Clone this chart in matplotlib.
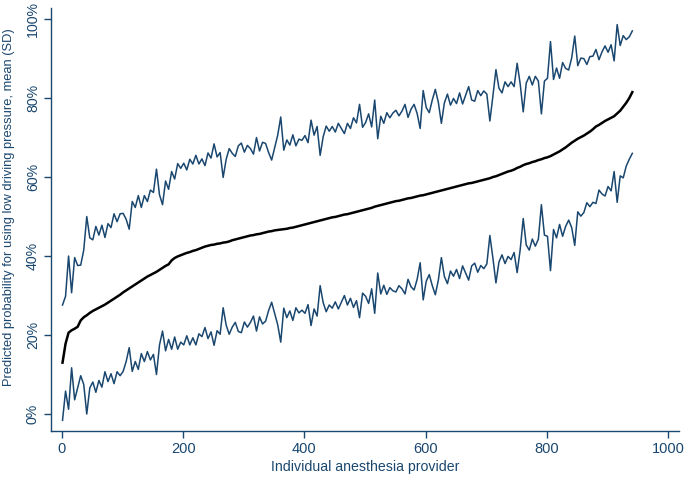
import numpy as np
import matplotlib
matplotlib.use("Agg")
import matplotlib.pyplot as plt

# Providers sampled every 5th rank (1, 6, 11, ... 941)
providers = np.arange(1, 946, 5)

# Predicted probability, mean (%), ranked
mean_pct = [
    13.0, 17.8, 20.6, 21.2, 21.6, 22.1, 23.7, 24.5, 25.0, 25.6,
    26.1, 26.5, 26.9, 27.3, 27.7, 28.2, 28.7, 29.2, 29.7, 30.2,
    30.8, 31.3, 31.8, 32.3, 32.8, 33.3, 33.8, 34.3, 34.8, 35.2,
    35.6, 36.0, 36.5, 37.0, 37.5, 37.9, 38.9, 39.5, 39.9, 40.2,
    40.5, 40.8, 41.0, 41.3, 41.5, 41.8, 42.1, 42.4, 42.6, 42.8,
    42.9, 43.1, 43.2, 43.4, 43.5, 43.7, 44.0, 44.2, 44.4, 44.6,
    44.8, 45.0, 45.2, 45.3, 45.5, 45.6, 45.8, 46.0, 46.2, 46.3,
    46.5, 46.6, 46.7, 46.8, 46.9, 47.1, 47.2, 47.4, 47.6, 47.8,
    48.0, 48.2, 48.4, 48.6, 48.8, 49.0, 49.2, 49.4, 49.6, 49.8,
    49.9, 50.1, 50.3, 50.5, 50.6, 50.8, 51.0, 51.2, 51.4, 51.6,
    51.8, 52.0, 52.2, 52.5, 52.7, 52.9, 53.1, 53.3, 53.5, 53.7,
    53.9, 54.0, 54.2, 54.4, 54.6, 54.7, 54.9, 55.1, 55.3, 55.4,
    55.6, 55.8, 56.0, 56.2, 56.4, 56.6, 56.8, 57.0, 57.2, 57.4,
    57.6, 57.8, 58.0, 58.2, 58.4, 58.5, 58.7, 58.9, 59.1, 59.3,
    59.5, 59.7, 60.0, 60.2, 60.5, 60.8, 61.1, 61.4, 61.6, 61.9,
    62.3, 62.6, 63.0, 63.3, 63.5, 63.8, 64.0, 64.3, 64.5, 64.8,
    65.0, 65.3, 65.7, 66.1, 66.5, 67.0, 67.5, 68.1, 68.7, 69.2,
    69.7, 70.1, 70.5, 71.0, 71.5, 72.1, 72.8, 73.2, 73.7, 74.2,
    74.6, 75.0, 75.4, 76.1, 76.8, 77.8, 78.8, 80.0, 81.5,
]

# Standard deviation (%) per provider
sd_pct = [
    14.6, 12.0, 19.4, 9.5, 18.0, 15.5, 14.0, 17.0, 25.0, 19.0,
    18.0, 21.0, 18.4, 20.5, 17.0, 20.0, 18.5, 21.5, 19.0, 20.5,
    20.0, 18.0, 15.0, 21.5, 19.5, 22.0, 18.5, 21.0, 19.0, 21.5,
    20.5, 26.0, 19.0, 16.0, 21.5, 19.0, 22.5, 20.0, 23.5, 22.0,
    23.0, 21.0, 23.5, 22.0, 24.0, 21.5, 22.5, 20.5, 23.5, 22.0,
    25.5, 22.0, 23.0, 16.5, 21.0, 23.5, 22.0, 21.0, 23.5, 24.0,
    21.5, 23.0, 22.0, 20.5, 24.5, 21.0, 23.0, 22.5, 20.0, 18.0,
    21.0, 24.0, 28.5, 20.0, 22.5, 21.0, 23.5, 20.5, 22.0, 21.5,
    22.5, 20.5, 26.0, 22.0, 24.0, 16.5, 21.0, 23.5, 22.0, 23.0,
    21.5, 23.5, 22.0, 20.5, 23.0, 21.5, 24.0, 22.5, 27.0, 21.0,
    22.0, 24.0, 20.5, 27.0, 17.0, 22.5, 20.5, 23.0, 21.5, 22.5,
    23.0, 21.5, 22.5, 24.0, 20.5, 22.5, 23.5, 21.0, 17.0, 26.5,
    22.0, 20.5, 23.5, 26.0, 22.5, 17.0, 22.0, 24.0, 21.0, 22.5,
    21.0, 23.5, 20.5, 22.5, 24.5, 21.0, 20.5, 23.0, 21.5, 22.5,
    21.5, 14.5, 20.5, 27.0, 22.0, 20.5, 23.0, 21.5, 22.5, 21.0,
    26.5, 21.0, 13.5, 20.5, 22.0, 19.5, 21.5, 20.0, 11.5, 19.5,
    20.0, 29.0, 19.0, 21.5, 18.5, 22.0, 20.0, 19.0, 21.5, 26.5,
    18.5, 20.0, 19.5, 17.5, 19.0, 18.5, 19.5, 16.5, 18.0, 19.0,
    17.0, 18.5, 14.0, 22.5, 16.5, 18.0, 16.0, 15.5, 15.5,
]

x_ticks = [0, 200, 400, 600, 800, 1000]
y_ticks = [0, 20, 40, 60, 80, 100]
y_tick_labels = ["0%", "20%", "40%", "60%", "80%", "100%"]

navy = "#1a476f"
plt.rcParams["font.family"] = ["Liberation Sans", "DejaVu Sans"]

mean_arr = np.array(mean_pct)
sd_arr = np.array(sd_pct)

fig = plt.figure(figsize=(6.85, 4.78), dpi=100)
ax = fig.add_axes([51 / 685, 47 / 478, 628 / 685, 423 / 478])

ax.plot(providers, mean_arr + sd_arr, color=navy, lw=1.1)
ax.plot(providers, mean_arr - sd_arr, color=navy, lw=1.1)
ax.plot(providers, mean_arr, color="black", lw=1.8)

ax.set_xlim(-18, 1018)
ax.set_ylim(-4.3, 102.8)
ax.set_xticks(x_ticks)
ax.set_yticks(y_ticks)
ax.set_yticklabels(y_tick_labels, rotation=90, va="center")

for side in ["top", "right"]:
    ax.spines[side].set_visible(False)
for side in ["left", "bottom"]:
    ax.spines[side].set_color(navy)
    ax.spines[side].set_linewidth(1.0)
ax.tick_params(colors=navy, labelcolor=navy, length=5, width=1.0)
ax.tick_params(axis="y", pad=3, labelsize=10.2)
ax.tick_params(axis="x", pad=3, labelsize=10.5)

# axis titles placed in figure pixels to match the reference
fig.text(365 / 685, 1 - 467 / 478, "Individual anesthesia provider",
         color=navy, fontsize=10.2, ha="center", va="center")
fig.text(9 / 685, 1 - 207 / 478,
         "Predicted probability for using low driving pressure, mean (SD)",
         color=navy, fontsize=9.3, rotation=90, ha="center", va="center")

fig.savefig("out.png", dpi=100)
